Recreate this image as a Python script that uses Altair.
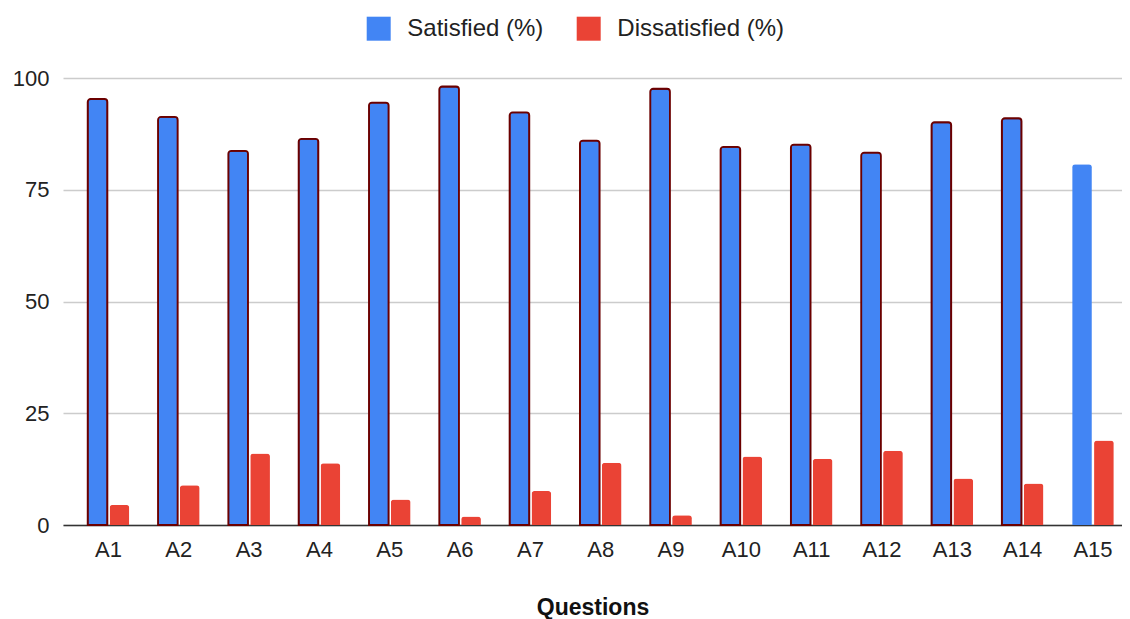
import altair as alt
import pandas as pd

questions = ["A1", "A2", "A3", "A4", "A5", "A6", "A7", "A8", "A9", "A10",
             "A11", "A12", "A13", "A14", "A15"]
satisfied = [95.3, 91.3, 83.7, 86.4, 94.5, 98.1, 92.3, 86.0, 97.6, 84.6,
             85.1, 83.3, 90.1, 91.0, 80.7]
dissatisfied = [4.5, 8.9, 16.0, 13.8, 5.7, 1.9, 7.6, 13.9, 2.2, 15.3,
                14.8, 16.6, 10.4, 9.3, 18.9]
series_names = ["Satisfied (%)", "Dissatisfied (%)"]
series_colors = ["#4285F4", "#EA4335"]
y_ticks = [0, 25, 50, 75, 100]

rows = []
for q, s, d in zip(questions, satisfied, dissatisfied):
    rows.append({"Question": q, "Series": series_names[0], "Value": s})
    rows.append({"Question": q, "Series": series_names[1], "Value": d})
df = pd.DataFrame(rows)

FONT = "Liberation Sans"
outlined = "datum.Series === 'Satisfied (%)' && datum.Question !== 'A15'"

chart = alt.Chart(df).mark_bar(
    cornerRadiusTopLeft=3, cornerRadiusTopRight=3, stroke="#6b0000"
).encode(
    x=alt.X("Question:N", sort=questions,
            scale=alt.Scale(paddingInner=0.408, paddingOuter=0.234, align=0.75),
            axis=alt.Axis(title="Questions", labelAngle=0, ticks=False, grid=False,
                          domainColor="#333333", domainWidth=1.5,
                          labelFontSize=22, labelFont=FONT, labelColor="#222222",
                          labelPadding=14, titleFontSize=23, titleFont=FONT,
                          titleFontWeight="bold", titleColor="#111111",
                          titlePadding=36)),
    xOffset=alt.XOffset("Series:N", sort=series_names,
                        scale=alt.Scale(paddingInner=0.1, paddingOuter=0)),
    y=alt.Y("Value:Q", scale=alt.Scale(domain=[0, 100]),
            axis=alt.Axis(values=y_ticks, title=None, domain=False, ticks=False,
                          gridColor="#cccccc", gridWidth=1.3,
                          labelFontSize=22, labelFont=FONT, labelColor="#222222",
                          labelPadding=14)),
    color=alt.Color("Series:N", sort=series_names,
                    scale=alt.Scale(domain=series_names, range=series_colors),
                    legend=alt.Legend(orient="none", legendX=303.7, legendY=-61.3,
                                      direction="horizontal", title=None,
                                      symbolType="square", symbolSize=576,
                                      symbolStrokeWidth=0, symbolOpacity=1,
                                      labelFontSize=24, labelFont=FONT,
                                      labelColor="#222222", labelOffset=16.6,
                                      labelLimit=400,
                                      columnPadding=33, padding=0)),
    strokeWidth=alt.condition(outlined, alt.value(1.8), alt.value(0)),
).properties(
    width=1059, height=447,
    autosize=alt.AutoSizeParams(type="none"),
    padding={"left": 55, "top": 70, "right": 0, "bottom": 94},
).configure_view(stroke=None)

chart.save("out.html", embed_options={"renderer": "svg", "actions": False})
